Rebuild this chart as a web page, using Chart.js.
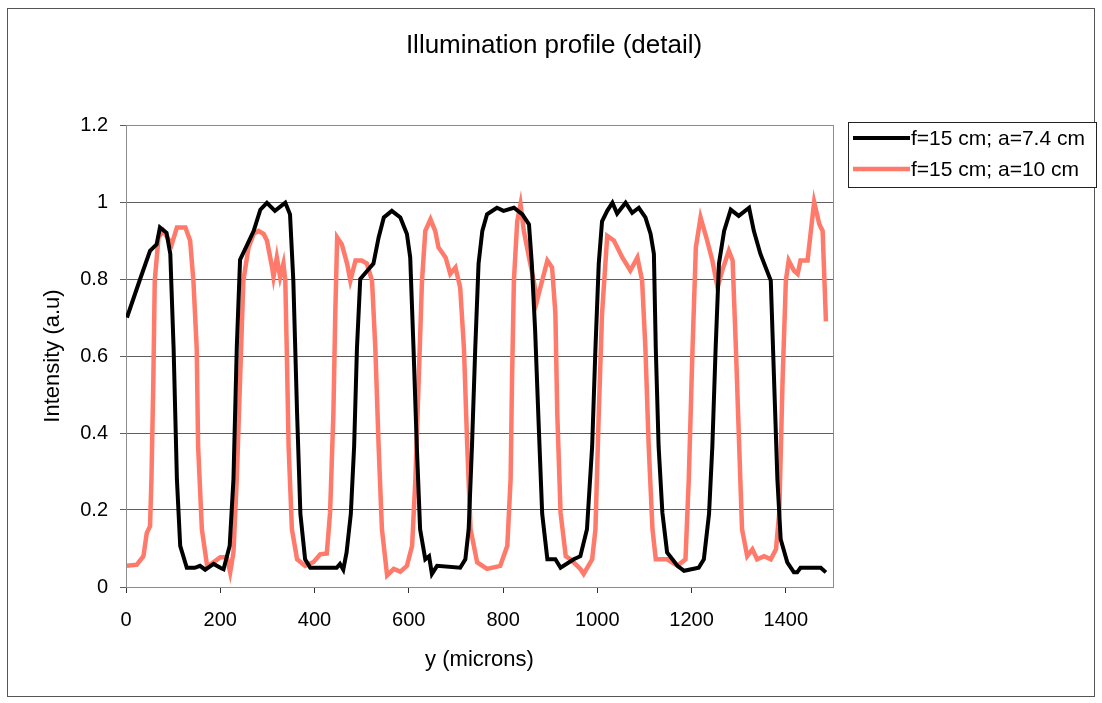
<!DOCTYPE html>
<html>
<head>
<meta charset="utf-8">
<title>Illumination profile (detail)</title>
<script src="https://cdn.jsdelivr.net/npm/chart.js@4.4.1/dist/chart.umd.min.js"></script>
<style>
  html, body { margin: 0; padding: 0; background: #ffffff; }
  #wrap { width: 1102px; height: 703px; position: relative; }
  canvas { display: block; }
</style>
</head>
<body>
<div id="wrap"><canvas id="chart" width="1102" height="703"></canvas></div>
<script>
// Measured profiles: position along y (microns) and normalised intensity (a.u.)
const seriesNames = ['f=15 cm; a=7.4 cm', 'f=15 cm; a=10 cm'];

const posA = [2, 30, 51, 65, 72, 86, 94, 101, 108, 115, 129, 146, 157, 168, 186, 200, 207,
  220, 228, 235, 242, 256, 271, 285, 299, 316, 338, 348, 355, 363, 370, 380, 391, 447, 454, 461,
  468, 477, 484, 490, 497, 511, 525, 536, 547, 564, 582, 596, 603, 610, 617, 624, 635, 643, 649, 660,
  709, 720, 727, 734, 741, 748, 756, 766, 787, 801, 823, 841, 855, 861, 868, 876, 883, 894, 911,
  922, 950, 964, 978, 989, 996, 1003, 1010, 1021, 1032, 1042, 1060, 1074, 1088, 1102, 1113, 1120,
  1124, 1130, 1138, 1148, 1170, 1184, 1215, 1226, 1237, 1244, 1251, 1258, 1269, 1283, 1300, 1322,
  1332, 1346, 1368, 1375, 1382, 1389, 1403, 1417, 1424, 1431, 1474, 1485];
const valA = [0.70, 0.80, 0.873, 0.89, 0.934, 0.92, 0.865, 0.62, 0.28, 0.107, 0.05, 0.05, 0.055, 0.045, 0.06, 0.05, 0.046,
  0.107, 0.28, 0.62, 0.85, 0.886, 0.925, 0.98, 0.998, 0.977, 0.998, 0.968, 0.796, 0.45, 0.19, 0.072, 0.05, 0.05, 0.06, 0.045,
  0.09, 0.19, 0.365, 0.62, 0.80, 0.82, 0.84, 0.908, 0.96, 0.977, 0.96, 0.917, 0.856, 0.62, 0.365, 0.15, 0.072, 0.08, 0.034, 0.055,
  0.05, 0.072, 0.15, 0.365, 0.62, 0.84, 0.925, 0.968, 0.985, 0.977, 0.985, 0.968, 0.942, 0.84, 0.667, 0.408, 0.19, 0.072, 0.072,
  0.05, 0.072, 0.08, 0.15, 0.365, 0.62, 0.84, 0.95, 0.977, 0.998, 0.97, 0.998, 0.972, 0.985, 0.96, 0.917, 0.865,
  0.62, 0.365, 0.193, 0.09, 0.055, 0.042, 0.05, 0.072, 0.19, 0.365, 0.62, 0.84, 0.925, 0.98, 0.964, 0.985,
  0.925, 0.865, 0.796, 0.537, 0.28, 0.124, 0.064, 0.038, 0.038, 0.05, 0.05, 0.038];

const posB = [2, 23, 37, 44, 51, 54, 58, 61, 69, 79, 97, 108, 126, 136, 143, 150, 153, 161, 172, 181,
  200, 214, 221, 228, 235, 242, 249, 260, 271, 281, 292, 299, 310, 313, 320, 327, 334, 338, 341, 345,
  352, 363, 380, 398, 412, 426, 433, 440, 444, 448, 458, 469, 476, 487, 500, 511, 522, 529, 536, 543,
  554, 568, 582, 596, 607, 614, 621, 628, 635, 646, 656, 663, 678, 688, 699, 709, 717, 724, 731, 745,
  766, 794, 809, 816, 819, 823, 830, 837, 844, 855, 865, 872, 883, 894, 904, 911, 915, 922, 933, 943,
  964, 971, 989, 996, 1003, 1010, 1021, 1035, 1053, 1070, 1085, 1095, 1102, 1109, 1117, 1124, 1148, 1170,
  1187, 1194, 1202, 1209, 1219, 1233, 1244, 1255, 1265, 1279, 1287, 1294, 1301, 1307, 1318, 1329, 1339,
  1354, 1368, 1379, 1386, 1393, 1400, 1406, 1417, 1425, 1431, 1446, 1460, 1471, 1478, 1485];
const valB = [0.055, 0.058, 0.08, 0.14, 0.158, 0.28, 0.537, 0.796, 0.908, 0.925, 0.89, 0.934, 0.934, 0.90, 0.796, 0.62, 0.365, 0.15, 0.055, 0.06,
  0.077, 0.077, 0.038, 0.09, 0.28, 0.537, 0.796, 0.882, 0.917, 0.925, 0.917, 0.90, 0.83, 0.805, 0.856, 0.805, 0.84, 0.796, 0.62, 0.365,
  0.15, 0.072, 0.055, 0.065, 0.085, 0.087, 0.193, 0.45, 0.71, 0.908, 0.89, 0.84, 0.796, 0.848, 0.848, 0.84, 0.796, 0.62, 0.365, 0.15,
  0.03, 0.047, 0.04, 0.055, 0.107, 0.28, 0.537, 0.796, 0.925, 0.955, 0.925, 0.882, 0.856, 0.813, 0.83, 0.778, 0.62, 0.365, 0.15, 0.064,
  0.047, 0.055, 0.107, 0.28, 0.537, 0.796, 0.95, 0.994, 0.925, 0.856, 0.796, 0.744, 0.796, 0.848, 0.83, 0.71, 0.45, 0.193, 0.08, 0.072,
  0.047, 0.034, 0.072, 0.15, 0.45, 0.71, 0.912, 0.90, 0.856, 0.822, 0.856, 0.796, 0.62, 0.365, 0.15, 0.072, 0.072, 0.055,
  0.072, 0.28, 0.62, 0.882, 0.96, 0.90, 0.848, 0.778, 0.822, 0.873, 0.848, 0.62, 0.365, 0.15, 0.08, 0.098, 0.072,
  0.08, 0.072, 0.098, 0.193, 0.537, 0.796, 0.848, 0.822, 0.813, 0.848, 0.848, 1.0, 0.942, 0.925, 0.69];

const xTicks = [0, 200, 400, 600, 800, 1000, 1200, 1400];
const yTicks = [0, 0.2, 0.4, 0.6, 0.8, 1, 1.2];

const colours = ['#000000', '#ff7a6a'];
const FONT = "'Liberation Sans', Arial, Helvetica, sans-serif";

function toPoints(xs, ys) {
  return xs.map((x, i) => ({ x: x, y: ys[i] }));
}

// Frame, title, plot border and legend box drawn around the chart
const decorations = {
  id: 'decorations',
  beforeDatasetsDraw(chart) {
    const { ctx, chartArea: a } = chart;
    ctx.save();
    ctx.strokeStyle = '#8c8c8c';
    ctx.lineWidth = 1;
    ctx.strokeRect(a.left + 0.5, a.top + 0.5, a.right - a.left, a.bottom - a.top);
    ctx.restore();
  },
  afterDraw(chart) {
    const { ctx } = chart;
    ctx.save();
    // outer frame
    ctx.strokeStyle = '#555555';
    ctx.lineWidth = 1;
    ctx.strokeRect(7.5, 8.5, 1087, 688);

    // title
    ctx.fillStyle = '#000';
    ctx.font = '26px ' + FONT;
    ctx.textAlign = 'center';
    ctx.textBaseline = 'middle';
    ctx.fillText('Illumination profile (detail)', 554, 46);

    // legend
    const bx = 848.5, by = 122.5, bw = 248, bh = 65;
    ctx.fillStyle = '#fff';
    ctx.fillRect(bx, by, bw, bh);
    ctx.strokeStyle = '#222';
    ctx.strokeRect(bx, by, bw, bh);
    ctx.font = '21px ' + FONT;
    ctx.textAlign = 'left';
    ctx.textBaseline = 'middle';
    chart.data.datasets.forEach((ds, i) => {
      const y = 138 + i * 31;
      ctx.strokeStyle = ds.borderColor;
      ctx.lineWidth = ds.borderWidth;
      ctx.beginPath();
      ctx.moveTo(853, y);
      ctx.lineTo(910, y);
      ctx.stroke();
      ctx.fillStyle = '#000';
      ctx.fillText(ds.label, 911, y + 1);
    });
    ctx.restore();
  }
};

new Chart(document.getElementById('chart'), {
  type: 'scatter',
  data: {
    datasets: [
      {
        label: seriesNames[0],
        data: toPoints(posA, valA),
        showLine: true,
        borderColor: colours[0],
        backgroundColor: colours[0],
        borderWidth: 4,
        pointRadius: 0,
        tension: 0
      },
      {
        label: seriesNames[1],
        data: toPoints(posB, valB),
        showLine: true,
        borderColor: colours[1],
        backgroundColor: colours[1],
        borderWidth: 4.5,
        pointRadius: 0,
        tension: 0
      }
    ]
  },
  options: {
    responsive: false,
    animation: false,
    devicePixelRatio: 1,
    layout: { padding: { left: 0, top: 125, right: 269, bottom: 0 } },
    plugins: {
      legend: { display: false },
      title: { display: false },
      tooltip: { enabled: false }
    },
    scales: {
      x: {
        type: 'linear',
        min: 0,
        max: 1500,
        afterFit(scale) { scale.height = 116; },
        afterBuildTicks(scale) { scale.ticks = xTicks.map(v => ({ value: v })); },
        ticks: {
          color: '#000',
          font: { family: FONT, size: 20 },
          padding: 15,
          maxRotation: 0,
          callback: v => String(v)
        },
        grid: { drawOnChartArea: false, drawTicks: true, tickLength: 6, color: '#333' },
        border: { display: true, color: '#333', width: 1 },
        title: {
          display: true,
          text: 'y (microns)',
          color: '#000',
          font: { family: FONT, size: 22 },
          padding: { top: 0, bottom: 30 }
        }
      },
      y: {
        type: 'linear',
        min: 0,
        max: 1.2,
        afterFit(scale) { scale.width = 126; },
        afterBuildTicks(scale) { scale.ticks = yTicks.map(v => ({ value: v })); },
        ticks: {
          color: '#000',
          font: { family: FONT, size: 20 },
          padding: 12,
          callback: v => String(Number(v.toFixed(1)))
        },
        grid: { color: '#5e5e5e', lineWidth: 1, drawTicks: true, tickLength: 6 },
        border: { display: true, color: '#333', width: 1 },
        title: {
          display: true,
          text: 'Intensity (a.u)',
          color: '#000',
          font: { family: FONT, size: 22 },
          padding: { top: 40, bottom: 0 }
        }
      }
    }
  },
  plugins: [decorations]
});
</script>
</body>
</html>
